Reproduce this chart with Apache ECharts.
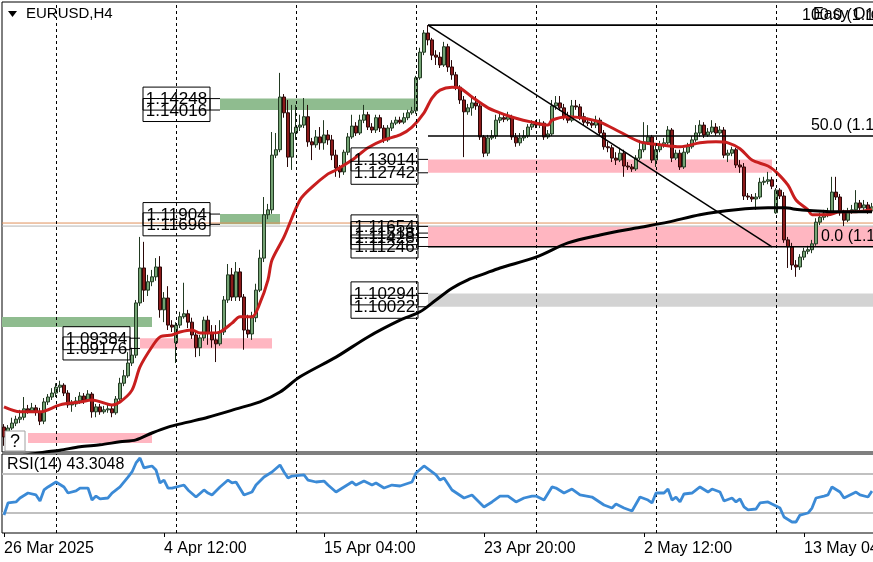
<!DOCTYPE html>
<html><head><meta charset="utf-8">
<script src="https://cdn.jsdelivr.net/npm/echarts/dist/echarts.min.js"></script>
<style>html,body{margin:0;padding:0;background:#fff}#c{width:873px;height:562px}</style>
</head><body><div id="c"></div>
<script>
// ---------- DATA (EURUSD H4) ----------
const opens=[
1.0758,1.0738,1.0756,1.0766,1.0774,1.0778,1.0795,1.0791,1.0797,1.0789,
1.0770,1.0809,1.0819,1.0827,1.0839,1.0843,1.0827,1.0803,1.0805,1.0811,
1.0821,1.0813,1.0825,1.0789,1.0799,1.0789,1.0793,1.0795,1.0787,1.0815,
1.0847,1.0862,1.0888,1.0904,1.1010,1.1081,1.1036,1.1053,1.1063,1.1083,
1.0996,1.1020,1.0965,1.0929,1.0965,1.0982,1.0988,1.0971,1.0945,1.0919,
1.0939,1.0975,1.0949,1.0935,1.0927,1.0951,1.1016,1.1067,1.1022,1.1073,
1.1022,1.0955,1.0947,1.0980,1.1036,1.1101,1.1189,1.1199,1.1310,1.1321,
1.1428,1.1396,1.1306,1.1355,1.1367,1.1371,1.1388,1.1337,1.1331,1.1347,
1.1335,1.1351,1.1341,1.1310,1.1284,1.1276,1.1316,1.1347,1.1369,1.1355,
1.1381,1.1392,1.1367,1.1361,1.1386,1.1365,1.1341,1.1365,1.1375,1.1381,
1.1377,1.1386,1.1396,1.1400,1.1467,1.1519,1.1558,1.1544,1.1513,1.1509,
1.1493,1.1530,1.1489,1.1473,1.1448,1.1422,1.1398,1.1406,1.1416,1.1410,
1.1347,1.1314,1.1345,1.1349,1.1381,1.1386,1.1383,1.1388,1.1347,1.1335,
1.1345,1.1349,1.1367,1.1373,1.1371,1.1375,1.1347,1.1353,1.1410,1.1416,
1.1406,1.1388,1.1381,1.1410,1.1408,1.1388,1.1377,1.1375,1.1371,1.1381,
1.1355,1.1327,1.1325,1.1304,1.1300,1.1314,1.1288,1.1286,1.1282,1.1304,
1.1321,1.1337,1.1347,1.1300,1.1321,1.1331,1.1335,1.1361,1.1304,1.1314,
1.1286,1.1316,1.1327,1.1341,1.1355,1.1371,1.1351,1.1357,1.1367,1.1355,
1.1361,1.1310,1.1314,1.1321,1.1290,1.1286,1.1227,1.1225,1.1221,1.1225,
1.1255,1.1257,1.1260,1.1193,1.1239,1.1227,1.1138,1.1124,1.1087,1.1083,
1.1103,1.1115,1.1118,1.1130,1.1174,1.1184,1.1191,1.1195,1.1235,1.1225,
1.1193,1.1178,1.1195,1.1199,1.1213,1.1203,1.1209,1.1197];
const closes=[
1.0738,1.0756,1.0766,1.0774,1.0778,1.0795,1.0791,1.0797,1.0789,1.0770,
1.0809,1.0819,1.0827,1.0839,1.0843,1.0827,1.0803,1.0805,1.0811,1.0821,
1.0813,1.0825,1.0789,1.0799,1.0789,1.0793,1.0795,1.0787,1.0815,1.0847,
1.0862,1.0888,1.0904,1.1010,1.1081,1.1036,1.1053,1.1063,1.1083,1.0996,
1.1020,1.0965,1.0961,1.0965,1.0982,1.0988,1.0971,1.0945,1.0919,1.0939,
1.0975,1.0949,1.0935,1.0927,1.0951,1.1016,1.1067,1.1022,1.1073,1.1022,
1.0955,1.0947,1.0980,1.1036,1.1101,1.1189,1.1199,1.1310,1.1321,1.1428,
1.1396,1.1306,1.1355,1.1367,1.1371,1.1388,1.1337,1.1331,1.1347,1.1335,
1.1351,1.1341,1.1310,1.1284,1.1276,1.1316,1.1347,1.1369,1.1355,1.1381,
1.1392,1.1367,1.1361,1.1386,1.1365,1.1341,1.1365,1.1375,1.1381,1.1377,
1.1386,1.1396,1.1400,1.1467,1.1519,1.1558,1.1544,1.1513,1.1509,1.1493,
1.1530,1.1489,1.1473,1.1448,1.1422,1.1398,1.1406,1.1416,1.1410,1.1347,
1.1314,1.1345,1.1349,1.1381,1.1386,1.1383,1.1388,1.1347,1.1335,1.1345,
1.1349,1.1367,1.1373,1.1371,1.1375,1.1347,1.1353,1.1410,1.1416,1.1406,
1.1388,1.1381,1.1410,1.1408,1.1388,1.1377,1.1375,1.1371,1.1381,1.1355,
1.1327,1.1325,1.1304,1.1300,1.1314,1.1288,1.1286,1.1282,1.1304,1.1321,
1.1337,1.1347,1.1300,1.1321,1.1331,1.1335,1.1361,1.1304,1.1314,1.1286,
1.1316,1.1327,1.1341,1.1355,1.1371,1.1351,1.1357,1.1367,1.1355,1.1361,
1.1310,1.1314,1.1321,1.1290,1.1286,1.1227,1.1225,1.1221,1.1225,1.1255,
1.1257,1.1260,1.1247,1.1239,1.1227,1.1138,1.1124,1.1087,1.1083,1.1103,
1.1115,1.1118,1.1130,1.1174,1.1184,1.1191,1.1195,1.1235,1.1225,1.1193,
1.1178,1.1195,1.1199,1.1213,1.1203,1.1209,1.1197,1.1205];
const highs=[
1.0764,1.0762,1.0777,1.0781,1.0793,1.0819,1.0803,1.0807,1.0803,1.0797,
1.0817,1.0825,1.0837,1.0847,1.0852,1.0847,1.0833,1.0813,1.0819,1.0829,
1.0827,1.0833,1.0829,1.0805,1.0805,1.0801,1.0803,1.0801,1.0821,1.0858,
1.0874,1.0910,1.0919,1.1016,1.1144,1.1134,1.1067,1.1077,1.1101,1.1105,
1.1032,1.1044,1.0975,1.0971,1.0992,1.1051,1.0996,1.0980,1.0951,1.0945,
1.0982,1.0984,1.0965,1.0965,1.0975,1.1024,1.1089,1.1081,1.1093,1.1081,
1.1028,1.0986,1.0992,1.1049,1.1118,1.1225,1.1211,1.1357,1.1355,1.1477,
1.1434,1.1422,1.1412,1.1412,1.1392,1.1426,1.1412,1.1345,1.1361,1.1367,
1.1381,1.1361,1.1351,1.1321,1.1290,1.1321,1.1355,1.1392,1.1377,1.1392,
1.1412,1.1398,1.1375,1.1392,1.1392,1.1371,1.1371,1.1381,1.1388,1.1388,
1.1396,1.1402,1.1408,1.1471,1.1528,1.1564,1.1574,1.1548,1.1523,1.1519,
1.1540,1.1536,1.1503,1.1479,1.1452,1.1430,1.1414,1.1426,1.1430,1.1416,
1.1351,1.1351,1.1361,1.1392,1.1396,1.1394,1.1398,1.1392,1.1355,1.1355,
1.1361,1.1373,1.1381,1.1381,1.1383,1.1379,1.1361,1.1422,1.1430,1.1430,
1.1414,1.1398,1.1422,1.1422,1.1414,1.1396,1.1386,1.1381,1.1390,1.1386,
1.1361,1.1337,1.1331,1.1316,1.1325,1.1321,1.1296,1.1292,1.1310,1.1341,
1.1377,1.1371,1.1351,1.1331,1.1339,1.1345,1.1369,1.1365,1.1321,1.1321,
1.1325,1.1335,1.1349,1.1371,1.1381,1.1377,1.1365,1.1381,1.1375,1.1369,
1.1367,1.1321,1.1327,1.1325,1.1300,1.1294,1.1233,1.1231,1.1233,1.1264,
1.1266,1.1276,1.1266,1.1243,1.1243,1.1235,1.1144,1.1132,1.1097,1.1109,
1.1122,1.1126,1.1138,1.1182,1.1193,1.1199,1.1203,1.1266,1.1266,1.1231,
1.1199,1.1203,1.1209,1.1239,1.1219,1.1219,1.1215,1.1213];
const lows=[
1.0720,1.0732,1.0752,1.0760,1.0766,1.0772,1.0785,1.0787,1.0781,1.0762,
1.0764,1.0803,1.0813,1.0819,1.0829,1.0821,1.0797,1.0789,1.0799,1.0805,
1.0805,1.0809,1.0777,1.0778,1.0783,1.0785,1.0787,1.0778,1.0783,1.0811,
1.0841,1.0858,1.0882,1.0898,1.1004,1.1012,1.1024,1.1044,1.1055,1.0980,
1.0971,1.0955,1.0951,1.0888,1.0959,1.0978,1.0959,1.0937,1.0900,1.0902,
1.0933,1.0925,1.0919,1.0890,1.0923,1.0945,1.1010,1.1014,1.1014,1.1014,
1.0915,1.0939,1.0935,1.0971,1.1032,1.1093,1.1180,1.1191,1.1304,1.1316,
1.1386,1.1286,1.1280,1.1341,1.1359,1.1365,1.1327,1.1300,1.1325,1.1321,
1.1321,1.1331,1.1300,1.1266,1.1264,1.1270,1.1310,1.1343,1.1349,1.1351,
1.1375,1.1361,1.1355,1.1355,1.1357,1.1335,1.1337,1.1359,1.1371,1.1373,
1.1373,1.1381,1.1392,1.1394,1.1463,1.1513,1.1533,1.1503,1.1493,1.1487,
1.1489,1.1479,1.1463,1.1442,1.1414,1.1306,1.1392,1.1390,1.1402,1.1341,
1.1306,1.1308,1.1341,1.1343,1.1375,1.1377,1.1379,1.1341,1.1327,1.1329,
1.1339,1.1345,1.1361,1.1365,1.1365,1.1341,1.1343,1.1349,1.1402,1.1400,
1.1381,1.1375,1.1377,1.1402,1.1381,1.1371,1.1369,1.1365,1.1365,1.1349,
1.1321,1.1316,1.1296,1.1290,1.1296,1.1266,1.1280,1.1276,1.1278,1.1300,
1.1316,1.1331,1.1294,1.1286,1.1316,1.1325,1.1331,1.1296,1.1300,1.1280,
1.1282,1.1312,1.1323,1.1337,1.1347,1.1345,1.1347,1.1353,1.1349,1.1351,
1.1304,1.1296,1.1308,1.1284,1.1274,1.1219,1.1219,1.1215,1.1199,1.1221,
1.1249,1.1251,1.1241,1.1191,1.1221,1.1132,1.1081,1.1077,1.1063,1.1077,
1.1097,1.1109,1.1111,1.1126,1.1168,1.1178,1.1184,1.1191,1.1219,1.1187,
1.1166,1.1174,1.1191,1.1195,1.1197,1.1197,1.1191,1.1193];

// moving averages (bar index, price)
const emaIdx=[0,4,9,14,19,22,27,29,32,34,37,39,42,44,47,49,52,54,57,59,62,64,66,67,70,74,77,81,83,87,91,95,99,102,105,107,109,112,114,117,121,124,128,132,136,137,141,145,149,154,159,164,169,174,178,181,184,187,191,193,196,198,201,202,206,209,213,217];
const emaVal=[1.0799,1.0789,1.0789,1.0803,1.0809,1.0813,1.0803,1.0809,1.0833,1.0880,1.0921,1.0941,1.0945,1.0951,1.0955,1.0949,1.0949,1.0951,1.0969,1.0982,1.0982,1.1010,1.1057,1.1097,1.1144,1.1219,1.1245,1.1272,1.1280,1.1300,1.1325,1.1341,1.1351,1.1367,1.1396,1.1426,1.1442,1.1448,1.1446,1.1428,1.1406,1.1396,1.1385,1.1377,1.1371,1.1381,1.1388,1.1385,1.1377,1.1357,1.1337,1.1331,1.1327,1.1335,1.1337,1.1335,1.1323,1.1300,1.1288,1.1276,1.1249,1.1219,1.1199,1.1189,1.1189,1.1195,1.1195,1.1199];
const smaIdx=[0,5,10,14,19,24,29,33,37,41,46,51,59,64,69,74,83,91,99,104,108,112,116,120,124,133,141,149,158,166,174,183,191,195,199,208,217];
const smaVal=[1.0697,1.0701,1.0707,1.0711,1.0718,1.0722,1.0728,1.0732,1.0746,1.0758,1.0768,1.0778,1.0797,1.0809,1.0829,1.0860,1.0900,1.0941,1.0975,1.0992,1.1016,1.1040,1.1057,1.1069,1.1081,1.1103,1.1132,1.1148,1.1162,1.1174,1.1189,1.1199,1.1203,1.1203,1.1199,1.1195,1.1195];

// RSI(14)
const rsiIdx=[0,1,3,4,6,8,9,10,11,13,15,16,18,19,21,22,23,24,26,27,29,31,32,33,34,35,36,37,38,39,40,41,42,45,46,48,50,51,52,54,56,57,58,60,62,63,65,67,69,70,71,72,75,76,78,80,81,83,85,87,88,90,92,93,95,97,99,102,103,105,107,108,109,110,112,115,117,120,122,124,126,128,130,132,133,135,137,138,140,142,144,147,150,152,153,155,157,159,161,162,163,165,166,167,168,169,170,172,174,176,177,179,180,182,183,184,185,186,188,189,191,192,194,195,197,198,199,201,202,203,205,206,207,209,210,212,213,214,216,217];
const rsiVal=[27.9,40.3,41.3,45.4,50.5,48.5,42.3,53.6,56.7,61.8,56.7,50.5,52.6,55.6,55.6,43.3,47.4,44.4,45.4,50.5,56.7,66.9,72.1,81.3,86.4,76.2,77.2,78.2,74.1,60.8,63.8,55.6,55.6,58.7,53.6,46.4,53.6,50.5,48.5,56.7,63.8,60.8,61.8,48.5,51.5,58.7,66.9,72.1,79.2,72.1,65.9,67.9,69.0,63.8,61.8,62.8,58.7,51.5,56.7,61.8,58.7,62.8,58.7,60.8,55.6,58.7,57.7,61.8,71.0,78.2,72.1,69.0,63.8,65.9,53.6,45.4,48.5,36.2,41.3,47.4,47.4,41.3,45.4,47.4,47.4,43.3,56.7,55.6,50.5,54.6,48.5,46.4,38.2,35.1,39.2,35.1,32.1,46.4,43.3,40.3,50.5,50.5,54.6,43.3,46.4,41.3,49.5,50.5,56.7,51.5,54.6,51.5,42.3,45.4,41.3,44.4,36.2,33.1,34.1,40.3,41.3,39.2,35.1,25.9,20.8,20.8,27.9,30.0,35.1,45.4,47.4,48.5,56.7,51.5,45.4,49.5,51.5,48.5,46.4,52.6];
const rsiLevels=[70,30];
const rsiName='RSI(14) 43.3048';

// time axis
const tickIndex=[0,40,80,120,160,200];
const tickText=['26 Mar 2025','4 Apr 12:00','15 Apr 04:00','23 Apr 20:00','2 May 12:00','13 May 04:00'];
const weekStarts=[13,43,73,103,133,163,193];

// supply / demand zones (start bar, end bar, top, bottom, kind); -1 / 999 = chart edge
const zoneStart=[54,54,-1,34,6,106,106,106];
const zoneEnd=[103,69,37,67,37,192,999,999];
const zoneTop=[1.14248,1.11904,1.09815,1.09384,1.07460,1.13014,1.11654,1.10294];
const zoneBottom=[1.14016,1.11696,1.09612,1.09176,1.07257,1.12742,1.11246,1.10022];
const zoneKind=['demand','demand','demand','supply','supply','supply','supply','neutral'];

// zone price labels
const labelIndex=[54,54,54,54,34,34,106,106,106,106,106,106,106,106];
const labelPrice=[1.14248,1.14016,1.11904,1.11696,1.09384,1.09176,1.13014,1.12742,1.11654,1.11518,1.11428,1.11246,1.10294,1.10022];

// fibonacci retracement + trend line
const fibStart=106, fibHigh=1.15740, fibLow=1.11240, trendEnd=192;
const fibLevels=[100.0,50.0,0.0];
// full-width price lines (bid / ask)
const priceLines=[1.11722,1.11660];
const priceLineKind=['bid','ask'];
const symbolTitle='EURUSD,H4';

// ---------- CHART ----------
const FONT='"Liberation Sans", Arial, sans-serif';
const N=closes.length;
const cats=Array.from({length:N},(_,i)=>String(i));
const tickSet=new Set(tickIndex);
const zoneColor={demand:'#8fbc8f',supply:'#ffb6c1',neutral:'#d3d3d3'};
const priceLineColor={bid:'#e0905a',ask:'#b4b4b4'};
const fibPrices=fibLevels.map(l=>fibLow+(fibHigh-fibLow)*l/100);
const dashed={color:'#000',width:1,type:[3,3]};

const chart=echarts.init(document.getElementById('c'),null,{renderer:'canvas'});
const option={
  animation:false,
  backgroundColor:'#ffffff',
  textStyle:{fontFamily:FONT},
  grid:[
    {left:2,top:2,width:872,height:450,show:true,borderColor:'#000',borderWidth:1,backgroundColor:'rgba(0,0,0,0)',containLabel:false,outerBoundsMode:'none'},
    {left:2,top:454,width:872,height:79,show:true,borderColor:'#000',borderWidth:1,backgroundColor:'rgba(0,0,0,0)',containLabel:false,outerBoundsMode:'none'}
  ],
  xAxis:[
    {type:'category',gridIndex:0,data:cats,boundaryGap:true,axisLine:{show:false},axisTick:{show:false},axisLabel:{show:false},splitLine:{show:false}},
    {type:'category',gridIndex:1,data:cats,boundaryGap:true,axisLine:{show:false},
     axisTick:{show:true,alignWithLabel:true,length:4,interval:(i)=>tickSet.has(i),lineStyle:{color:'#000',width:1}},
     axisLabel:{show:true,interval:(i)=>tickSet.has(i),hideOverlap:false,formatter:(v,i)=>tickText[tickIndex.indexOf(i)]||'',
       align:'left',margin:8,fontFamily:FONT,fontSize:16,color:'#000'},
     splitLine:{show:false}}
  ],
  yAxis:[
    {type:'value',gridIndex:0,min:1.07074,max:1.16209,show:false,splitLine:{show:false}},
    {type:'value',gridIndex:1,min:9.5,max:90.5,show:false,splitLine:{show:false}}
  ],
  series:[
    {type:'custom',name:'zones',xAxisIndex:0,yAxisIndex:0,z:1,silent:true,clip:true,
     data:zoneTop.map((t,k)=>[Math.max(0,Math.min(N-1,zoneStart[k])),t]),
     renderItem:(params,api)=>{
       const k=params.dataIndex, cs=params.coordSys;
       const s=zoneStart[k], e=zoneEnd[k];
       const p0=api.coord([Math.max(0,s),zoneTop[k]]);
       const p1=api.coord([Math.min(N-1,e),zoneBottom[k]]);
       const x0=s<0?cs.x:p0[0];
       const x1=e>=N?cs.x+cs.width:p1[0];
       return {type:'rect',shape:{x:x0,y:p0[1],width:x1-x0,height:p1[1]-p0[1]},style:{fill:zoneColor[zoneKind[k]]}};
     }},
    {type:'custom',name:'priceLines',xAxisIndex:0,yAxisIndex:0,z:2,silent:true,clip:true,
     data:priceLines.map(p=>[0,p]),
     renderItem:(params,api)=>{
       const k=params.dataIndex, cs=params.coordSys;
       const p=api.coord([0,priceLines[k]]);
       return {type:'line',shape:{x1:cs.x,y1:p[1],x2:cs.x+cs.width,y2:p[1]},style:{stroke:priceLineColor[priceLineKind[k]],lineWidth:1}};
     }},
    {type:'candlestick',name:'EURUSD',xAxisIndex:0,yAxisIndex:0,z:3,barWidth:3,
     data:cats.map((_,i)=>[opens[i],closes[i],lows[i],highs[i]]),
     itemStyle:{color:'#74a374',color0:'#8b1a1a',borderColor:'#223a22',borderColor0:'#2a0808',borderWidth:1},
     markLine:{silent:true,symbol:['none','none'],label:{show:false},animation:false,
       data:[
         ...weekStarts.map(i=>({xAxis:i,lineStyle:dashed})),
         [{coord:[fibStart,fibHigh],lineStyle:{color:'#000',width:1.5,type:'solid'}},{coord:[trendEnd,fibLow]}]
       ]}},
    {type:'line',name:'EMA',xAxisIndex:0,yAxisIndex:0,z:4,data:emaIdx.map((x,k)=>[x,emaVal[k]]),
     showSymbol:false,symbol:'none',smooth:0.3,lineStyle:{color:'#c81e1e',width:3},silent:true},
    {type:'line',name:'SMA',xAxisIndex:0,yAxisIndex:0,z:4,data:smaIdx.map((x,k)=>[x,smaVal[k]]),
     showSymbol:false,symbol:'none',smooth:0.3,lineStyle:{color:'#000',width:3},silent:true},
    {type:'custom',name:'fibo',xAxisIndex:0,yAxisIndex:0,z:5,silent:true,clip:true,
     data:fibPrices.map(p=>[fibStart,p]),
     renderItem:(params,api)=>{
       const k=params.dataIndex, cs=params.coordSys;
       const p=api.coord([fibStart,fibPrices[k]]);
       const xEnd=cs.x+cs.width;
       return {type:'group',children:[
         {type:'line',shape:{x1:p[0],y1:p[1],x2:xEnd,y2:p[1]},style:{stroke:'#000',lineWidth:1.6}},
         {type:'text',style:{text:fibLevels[k].toFixed(1)+' ('+fibPrices[k].toFixed(5)+')',x:xEnd+41,y:p[1]-2,
           align:'right',textAlign:'right',verticalAlign:'bottom',textVerticalAlign:'bottom',font:'16px '+FONT,fill:'#000'}}
       ]};
     }},
    {type:'custom',name:'labels',xAxisIndex:0,yAxisIndex:0,z:6,silent:true,clip:false,
     data:labelIndex.map((x,k)=>[x,labelPrice[k]]),
     renderItem:(params,api)=>{
       const k=params.dataIndex;
       const p=api.coord([labelIndex[k],labelPrice[k]]);
       const bw=67,bh=23,gap=10;
       const right=p[0]-gap;
       return {type:'group',children:[
         {type:'line',shape:{x1:right,y1:p[1],x2:p[0],y2:p[1]},style:{stroke:'#000',lineWidth:1}},
         {type:'rect',shape:{x:right-bw,y:p[1]-bh/2,width:bw,height:bh},style:{fill:'none',stroke:'#000',lineWidth:1}},
         {type:'text',style:{text:labelPrice[k].toFixed(5),x:right-bw/2,y:p[1]+1,align:'center',textAlign:'center',
           verticalAlign:'middle',textVerticalAlign:'middle',font:'17px '+FONT,fill:'#000'}}
       ]};
     }},
    {type:'line',name:'RSI',xAxisIndex:1,yAxisIndex:1,z:4,data:rsiIdx.map((x,k)=>[x,rsiVal[k]]),
     showSymbol:false,symbol:'none',lineStyle:{color:'#3b8ad6',width:2.8},silent:true,
     markLine:{silent:true,symbol:['none','none'],label:{show:false},animation:false,z:2,
       data:[
         ...rsiLevels.map(v=>({yAxis:v,lineStyle:{color:'#c0c0c0',width:2,type:'solid'}})),
         ...weekStarts.map(i=>({xAxis:i,lineStyle:dashed}))
       ]}}
  ],
  graphic:[
    {type:'polygon',shape:{points:[[8,11],[17,11],[12.5,17]]},style:{fill:'#000'},z:100},
    {type:'text',left:26,top:6,style:{text:symbolTitle,font:'15px '+FONT,fill:'#000'},z:100},
    {type:'text',left:813,top:7,style:{text:'Easy Order',font:'16px '+FONT,fill:'#000'},z:100},
    {type:'text',left:7,top:457,style:{text:rsiName,font:'16px '+FONT,fill:'#000'},z:100},
    {type:'rect',shape:{x:5,y:431,width:20,height:20},style:{fill:'#fff',stroke:'#a0a0a0',lineWidth:1},z:100},
    {type:'text',x:15,y:442,style:{text:'?',font:'18px '+FONT,fill:'#000',align:'center',textAlign:'center',verticalAlign:'middle',textVerticalAlign:'middle'},z:101}
  ]
};
chart.setOption(option);
</script>
</body></html>
